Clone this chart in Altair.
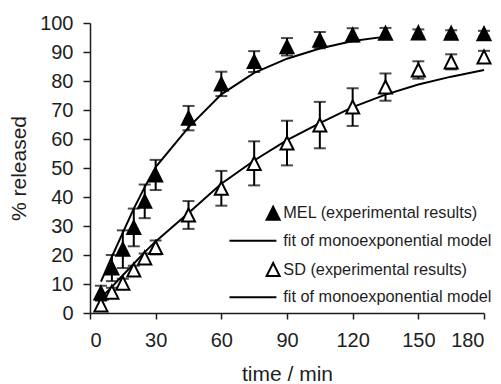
import altair as alt
import pandas as pd

# ---- data ----
time = [5, 10, 15, 20, 25, 30, 45, 60, 75, 90, 105, 120, 135, 150, 165, 180]
mel = [6.9, 15.5, 22.0, 29.5, 38.5, 47.6, 67.2, 79.0, 86.7, 91.8, 94.1, 95.9, 96.5, 96.6, 96.5, 96.3]
mel_err = [2.5, 4.5, 6.5, 6.5, 5.8, 5.2, 4.2, 4.2, 3.6, 3.0, 2.8, 2.3, 1.8, 1.2, 1.0, 1.0]
sd = [2.8, 7.2, 10.3, 14.8, 19.0, 22.6, 33.8, 43.0, 51.6, 58.6, 64.8, 71.0, 77.9, 83.8, 86.6, 88.3]
sd_err = [1.5, 1.5, 1.5, 1.5, 1.5, 2.4, 4.8, 6.0, 7.6, 7.7, 8.0, 6.5, 4.7, 3.0, 2.6, 2.1]

fit_mel_t = [5, 10, 15, 20, 25, 30, 45, 60, 75, 90, 105, 120, 135]
fit_mel = [10.8, 19.4, 27.7, 36.0, 43.4, 50.3, 64.0, 75.4, 82.8, 87.7, 91.2, 93.8, 95.3]
fit_sd_t = [5, 10, 15, 20, 25, 30, 45, 60, 75, 90, 105, 120, 135, 150, 165, 180]
fit_sd = [5.2, 9.0, 13.0, 17.0, 21.0, 24.7, 34.5, 44.6, 52.6, 59.6, 65.5, 71.0, 75.3, 78.8, 81.5, 83.8]

legend_keys = ["MEL", "MEL fit", "SD", "SD fit"]
label_expr = ("datum.value == 'MEL' ? 'MEL (experimental results)' : "
              "datum.value == 'SD' ? 'SD (experimental results)' : "
              "'fit of monoexponential model'")
x_ticks = [0, 30, 60, 90, 120, 150, 180]
y_ticks = [0, 10, 20, 30, 40, 50, 60, 70, 80, 90, 100]

# ---- tables ----
pts = pd.DataFrame({
    "t": time + time,
    "y": mel + sd,
    "err": mel_err + sd_err,
    "key": ["MEL"] * len(time) + ["SD"] * len(time),
})
pts["lo"] = pts["y"] - pts["err"]
pts["hi"] = pts["y"] + pts["err"]

fits = pd.DataFrame({
    "t": fit_mel_t + fit_sd_t,
    "y": fit_mel + fit_sd,
    "key": ["MEL fit"] * len(fit_mel_t) + ["SD fit"] * len(fit_sd_t),
})

FONT = "Liberation Sans"
INK = "#1e1e1e"
TRI = "M-1,1L0,-1L1,1Z"
LINE = "M-6.7,0H0.5"

xs = alt.Scale(domain=[0, 180], nice=False)
ys = alt.Scale(domain=[0, 100], nice=False)

x_axis = alt.Axis(values=x_ticks, title="time / min", tickSize=6, labelPadding=11,
                  titlePadding=13, labelOverlap=False)
y_axis = alt.Axis(values=y_ticks, title="% released", tickSize=7, labelPadding=10,
                  titlePadding=10, labelOverlap=False)

leg = alt.Legend(orient="none", legendX=175, legendY=182, title=None,
                 labelExpr=label_expr, labelFont=FONT, labelFontSize=16.3,
                 labelColor=INK, labelLimit=0, padding=0, rowPadding=8.7, labelOffset=2,
                 symbolSize=170, symbolStrokeWidth=2, symbolStrokeColor="black",
                 symbolOpacity=1)

shape_enc = alt.Shape("key:N", scale=alt.Scale(domain=legend_keys, range=[TRI, LINE, TRI, LINE]),
                      legend=leg)
fill_enc = alt.Fill("key:N", scale=alt.Scale(domain=legend_keys, range=["black", "black", "white", "black"]),
                    legend=leg)
stroke_enc = alt.Stroke("key:N", scale=alt.Scale(domain=legend_keys, range=["black", "black", "black", "black"]),
                        legend=leg)

X = alt.X("t:Q", scale=xs, axis=x_axis)

lines = alt.Chart(fits).mark_line(color="black", strokeWidth=2).encode(
    x=X,
    y=alt.Y("y:Q", scale=ys, axis=y_axis),
    detail="key:N",
)

bars = alt.Chart(pts).mark_rule(color="black", strokeWidth=2).encode(
    x=X,
    y=alt.Y("lo:Q", scale=ys, axis=y_axis),
    y2="hi:Q",
)

caps_lo = alt.Chart(pts).mark_tick(color="black", orient="horizontal", size=12, thickness=2).encode(
    x=X,
    y=alt.Y("lo:Q", scale=ys, axis=y_axis),
)
caps_hi = alt.Chart(pts).mark_tick(color="black", orient="horizontal", size=12, thickness=2).encode(
    x=X,
    y=alt.Y("hi:Q", scale=ys, axis=y_axis),
)

points = alt.Chart(pts).mark_point(filled=True, size=170, strokeWidth=2, opacity=1).encode(
    x=X,
    y=alt.Y("y:Q", scale=ys, axis=y_axis),
    shape=shape_enc,
    fill=fill_enc,
    stroke=stroke_enc,
)

chart = alt.layer(lines, bars, caps_lo, caps_hi, points).properties(
    width=394, height=290,
    autosize=alt.AutoSizeParams(type="none"),
    padding={"left": 82, "top": 15, "right": 9, "bottom": 72},
).configure_view(stroke=None).configure_axis(
    grid=False,
    domainColor=INK, domainWidth=1.5,
    tickColor=INK, tickWidth=1.5,
    labelFont=FONT, labelFontSize=20, labelColor=INK,
    titleFont=FONT, titleFontSize=21, titleFontWeight="normal", titleColor=INK,
)

chart.save("out.html", embed_options={"renderer": "svg", "actions": False})
